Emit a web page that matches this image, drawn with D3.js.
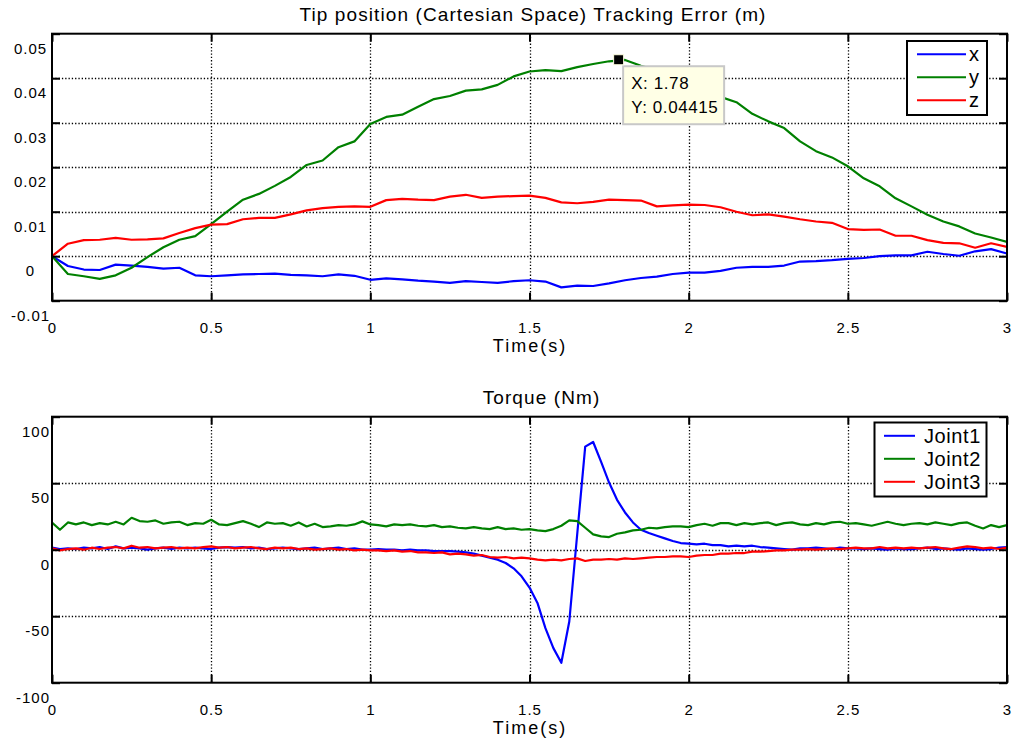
<!DOCTYPE html>
<html>
<head>
<meta charset="utf-8">
<script src="https://cdn.jsdelivr.net/npm/d3@7"></script>
<style>
  body { margin: 0; background: #fff; }
  svg text { font-family: "Liberation Sans", Arial, Helvetica, sans-serif; fill: #000; }
</style>
</head>
<body>
<div id="chart"></div>
<script>
var fontFamily = '"Liberation Sans", Arial, Helvetica, sans-serif';

// ---- data ----
var xTicks = [0, 0.5, 1, 1.5, 2, 2.5, 3];
var xTickLabels = ["0", "0.5", "1", "1.5", "2", "2.5", "3"];

var errTicks = [-0.01, 0, 0.01, 0.02, 0.03, 0.04, 0.05];
var errTickLabels = ["-0.01", "0", "0.01", "0.02", "0.03", "0.04", "0.05"];
var torqueTicks = [-100, -50, 0, 50, 100];
var torqueTickLabels = ["-100", "-50", "0", "50", "100"];

var errNames = ["x", "y", "z"];
var torqueNames = ["Joint1", "Joint2", "Joint3"];
var seriesColors = ["#0000ff", "#008000", "#ff0000"];

// sample times (s)
var errTime = [0, 0.05, 0.1, 0.15, 0.2, 0.25, 0.3, 0.35, 0.4, 0.45,
  0.5, 0.55, 0.6, 0.65, 0.7, 0.75, 0.8, 0.85, 0.9, 0.95,
  1, 1.05, 1.1, 1.15, 1.2, 1.25, 1.3, 1.35, 1.4, 1.45,
  1.5, 1.55, 1.6, 1.65, 1.7, 1.75, 1.8, 1.85, 1.9, 1.95,
  2, 2.05, 2.1, 2.15, 2.2, 2.25, 2.3, 2.35, 2.4, 2.45,
  2.5, 2.55, 2.6, 2.65, 2.7, 2.75, 2.8, 2.85, 2.9, 2.95,
  3];

var torqueTime = [0, 0.025, 0.05, 0.075, 0.1, 0.125, 0.15, 0.175, 0.2, 0.225,
  0.25, 0.275, 0.3, 0.325, 0.35, 0.375, 0.4, 0.425, 0.45, 0.475,
  0.5, 0.525, 0.55, 0.575, 0.6, 0.625, 0.65, 0.675, 0.7, 0.725,
  0.75, 0.775, 0.8, 0.825, 0.85, 0.875, 0.9, 0.925, 0.95, 0.975,
  1, 1.025, 1.05, 1.075, 1.1, 1.125, 1.15, 1.175, 1.2, 1.225,
  1.25, 1.275, 1.3, 1.325, 1.35, 1.375, 1.4, 1.425, 1.45, 1.475,
  1.5, 1.525, 1.55, 1.575, 1.6, 1.625, 1.65, 1.675, 1.7, 1.725,
  1.75, 1.775, 1.8, 1.825, 1.85, 1.875, 1.9, 1.925, 1.95, 1.975,
  2, 2.025, 2.05, 2.075, 2.1, 2.125, 2.15, 2.175, 2.2, 2.225,
  2.25, 2.275, 2.3, 2.325, 2.35, 2.375, 2.4, 2.425, 2.45, 2.475,
  2.5, 2.525, 2.55, 2.575, 2.6, 2.625, 2.65, 2.675, 2.7, 2.725,
  2.75, 2.775, 2.8, 2.825, 2.85, 2.875, 2.9, 2.925, 2.95, 2.975,
  3];

// tip position tracking error (m)
var errX = [0, -0.0022, -0.0030, -0.0031, -0.0019, -0.0021, -0.0024, -0.0028, -0.0026, -0.0043,
  -0.0045, -0.0043, -0.0041, -0.0040, -0.0039, -0.0042, -0.0043, -0.0045, -0.0041, -0.0044,
  -0.0053, -0.0050, -0.0052, -0.0055, -0.0057, -0.0060, -0.0056, -0.0058, -0.0060, -0.0056,
  -0.0054, -0.0057, -0.0070, -0.0066, -0.0067, -0.0061, -0.0054, -0.0049, -0.0046, -0.0040,
  -0.0037, -0.0037, -0.0033, -0.0026, -0.0024, -0.0024, -0.0021, -0.0012, -0.0011, -0.0009,
  -0.0006, -0.0004, 0.0000, 0.0002, 0.0002, 0.0010, 0.0005, 0.0001, 0.0011, 0.0016,
  0.0006];

var errY = [0, -0.0040, -0.0045, -0.0051, -0.0043, -0.0026, -0.0002, 0.0020, 0.0037, 0.0045,
  0.0072, 0.0100, 0.0127, 0.0140, 0.0158, 0.0178, 0.0205, 0.0215, 0.0245, 0.0258,
  0.0297, 0.0313, 0.0318, 0.0336, 0.0353, 0.0360, 0.0372, 0.0375, 0.0385, 0.0404,
  0.0415, 0.0418, 0.0416, 0.0425, 0.0432, 0.0438, 0.0441, 0.0428, 0.0418, 0.0405,
  0.0390, 0.0375, 0.0358, 0.0346, 0.0320, 0.0303, 0.0288, 0.0258, 0.0236, 0.0222,
  0.0202, 0.0175, 0.0157, 0.0130, 0.0112, 0.0093, 0.0078, 0.0067, 0.0051, 0.0042,
  0.0032];

var errZ = [0, 0.0028, 0.0036, 0.0037, 0.0041, 0.0037, 0.0038, 0.0040, 0.0052, 0.0063,
  0.0071, 0.0072, 0.0083, 0.0086, 0.0086, 0.0094, 0.0103, 0.0108, 0.0111, 0.0112,
  0.0111, 0.0126, 0.0129, 0.0127, 0.0126, 0.0134, 0.0138, 0.0131, 0.0134, 0.0135,
  0.0136, 0.0131, 0.0121, 0.0119, 0.0122, 0.0127, 0.0126, 0.0125, 0.0112, 0.0114,
  0.0116, 0.0115, 0.0110, 0.0100, 0.0092, 0.0094, 0.0089, 0.0083, 0.0078, 0.0075,
  0.0061, 0.0059, 0.0060, 0.0046, 0.0046, 0.0036, 0.0030, 0.0029, 0.0019, 0.0029,
  0.0021];

// torque (Nm)
var joint1 = [1.5, 0.5, 1.0, 0.5, 1.5, 1.0, 2.0, 0.5, 2.5, 1.0,
  1.5, 1.0, 0.0, 1.0, 1.5, 0.5, 1.5, 1.0, 1.5, 1.0,
  0.5, 1.5, 2.0, 1.5, 2.0, 1.0, 1.5, 0.5, 1.0, 1.5,
  1.0, 0.5, 1.0, 1.5, 0.5, 1.0, 1.5, 0.5, 1.0, 0.0,
  0.0, 0.5, 0.0, 0.0, -0.5, 0.0, -0.5, -0.5, -1.0, -1.0,
  -1.0, -1.5, -2.0, -3.0, -4.5, -6.0, -7.5, -10.0, -14.0, -20.0,
  -28.5, -40.0, -59.0, -74.0, -85.0, -54.0, 12.0, 77.5, 81.0, 66.0,
  50.5, 37.5, 28.0, 20.5, 15.0, 12.5, 10.5, 8.5, 6.5, 5.0,
  4.5, 4.0, 4.5, 3.5, 3.5, 2.5, 3.0, 2.5, 3.0, 2.0,
  1.5, 1.0, 0.5, 0.0, 1.0, 1.0, 1.5, 1.0, 0.5, 1.5,
  1.0, 1.0, 0.5, 1.0, 0.5, 0.0, 1.0, 0.5, 0.5, 1.0,
  1.5, 0.5, 1.0, 0.5, 0.0, 1.0, 0.5, 0.0, 0.5, 1.5,
  2.0];

var joint2 = [20.5, 15.0, 20.5, 19.0, 20.5, 18.5, 20.0, 19.0, 21.0, 19.0,
  24.0, 21.5, 21.0, 22.0, 19.5, 20.5, 21.0, 18.5, 20.0, 19.5,
  22.5, 19.0, 18.5, 20.0, 21.5, 19.5, 17.0, 20.5, 19.5, 20.0,
  18.0, 20.5, 17.5, 19.5, 17.0, 17.5, 18.5, 18.0, 19.0, 21.3,
  19.0, 18.5, 17.5, 19.0, 18.5, 19.0, 18.0, 17.5, 18.5, 17.0,
  17.5, 16.5, 16.0, 17.0, 16.0, 15.5, 17.0, 15.5, 16.0, 15.0,
  15.5, 14.5, 14.0, 15.5, 18.0, 22.0, 21.5, 16.5, 11.5, 10.0,
  9.5, 12.0, 13.0, 14.5, 15.0, 16.5, 16.0, 17.0, 17.5, 17.5,
  17.0, 18.5, 19.5, 18.0, 20.0, 20.0, 18.5, 20.0, 19.0, 20.0,
  20.5, 18.5, 20.0, 20.5, 19.0, 18.5, 20.0, 19.0, 20.5, 21.0,
  19.5, 20.0, 19.0, 18.0, 19.5, 21.0, 19.5, 18.5, 19.5, 20.0,
  19.0, 20.5, 19.5, 18.5, 20.0, 20.5, 18.0, 16.0, 18.5, 17.0,
  18.5];

var joint3 = [1.0, -0.5, 0.5, 1.0, 0.0, 1.5, 0.5, 1.5, 2.0, 1.0,
  3.0, 1.5, 2.0, 1.0, 1.5, 2.0, 1.0, 1.5, 1.0, 2.0,
  2.5, 1.5, 2.0, 1.0, 1.5, 2.0, 1.0, 0.5, 1.5, 1.0,
  1.5, 0.5, 1.0, 0.0, 0.5, 1.0, 0.0, 0.5, -0.5, 0.0,
  -0.5, -0.5, -1.0, -0.5, -1.5, -1.0, -2.0, -2.0, -2.5, -2.0,
  -3.5, -3.0, -3.5, -4.5, -4.0, -5.5, -6.0, -5.5, -6.5, -6.0,
  -6.5, -7.5, -8.0, -7.5, -8.0, -7.0, -6.5, -8.5, -7.5, -7.5,
  -7.0, -7.5, -6.5, -7.0, -6.5, -6.0, -5.5, -5.5, -5.0, -5.0,
  -5.5, -4.5, -4.0, -4.0, -3.0, -3.0, -2.5, -2.5, -1.5, -1.5,
  -1.0, -0.5, -0.5, 0.0, 0.0, 0.5, 0.0, 0.5, 1.0, 0.5,
  1.0, 1.5, 1.0, 1.0, 2.0, 1.0, 1.5, 1.0, 1.5, 1.0,
  1.5, 2.0, 1.0, 0.5, 1.5, 2.5, 2.0, 1.0, 1.5, 0.5,
  1.5];

// data cursor on the y curve
var dataTip = { x: 1.78, y: 0.04415 };
var dataTipLabels = ["X: 1.78", "Y: 0.04415"];

// ---- layout ----
var width = 1018, height = 743;

var svg = d3.select("#chart").append("svg")
    .attr("width", width)
    .attr("height", height)
    .style("display", "block");

var x = d3.scaleLinear().domain([0, 3]).range([52, 1007]);

var panels = [
  {
    id: "err",
    top: 33.7, bottom: 300.7,
    yDomain: [-0.01, 0.05],
    ticks: errTicks, tickLabels: errTickLabels,
    labelX: -21.5, labelAnchor: "middle",
    title: "Tip position (Cartesian Space) Tracking Error (m)", titleX: 533,
    series: [
      { name: errNames[0], color: seriesColors[0], time: errTime, values: errX },
      { name: errNames[1], color: seriesColors[1], time: errTime, values: errY },
      { name: errNames[2], color: seriesColors[2], time: errTime, values: errZ }
    ],
    legend: { x: 907, y: 41, w: 80, h: 74, lineX1: 917, lineX2: 966, textX: 969 }
  },
  {
    id: "torque",
    top: 416.7, bottom: 682.7,
    yDomain: [-100, 100],
    ticks: torqueTicks, tickLabels: torqueTickLabels,
    labelX: -2, labelAnchor: "end",
    title: "Torque (Nm)", titleX: 541.5,
    series: [
      { name: torqueNames[0], color: seriesColors[0], time: torqueTime, values: joint1 },
      { name: torqueNames[1], color: seriesColors[1], time: torqueTime, values: joint2 },
      { name: torqueNames[2], color: seriesColors[2], time: torqueTime, values: joint3 }
    ],
    legend: { x: 874.5, y: 422.5, w: 112, h: 74, lineX1: 884, lineX2: 915, textX: 924 }
  }
];

function styleAxis(g) {
  g.select(".domain").remove();
  g.attr("font-family", fontFamily).attr("font-size", 15);
  g.selectAll(".tick line").attr("stroke", "#000").attr("stroke-width", 2);
  g.selectAll(".tick text").attr("fill", "#000").attr("letter-spacing", 1);
}

function drawPanel(p) {
  var y = d3.scaleLinear().domain(p.yDomain).range([p.bottom, p.top]);
  var g = svg.append("g").attr("class", "panel-" + p.id);
  var w = x(3) - x(0), h = p.bottom - p.top;

  svg.append("clipPath").attr("id", "clip-" + p.id)
    .append("rect")
    .attr("x", x(0)).attr("y", p.top)
    .attr("width", w).attr("height", h);

  // dotted grid
  g.selectAll("line.vgrid")
    .data(xTicks.filter(function(d) { return d > 0 && d < 3; }))
    .enter().append("line")
    .attr("class", "vgrid")
    .attr("x1", function(d) { return Math.round(x(d)) + 0.5; })
    .attr("x2", function(d) { return Math.round(x(d)) + 0.5; })
    .attr("y1", p.top).attr("y2", p.bottom)
    .attr("stroke", "#000").attr("stroke-width", 1.3)
    .attr("stroke-dasharray", "1.3,2");

  g.selectAll("line.hgrid")
    .data(p.ticks.filter(function(d) { return d > p.yDomain[0] && d < p.yDomain[1]; }))
    .enter().append("line")
    .attr("class", "hgrid")
    .attr("x1", x(0)).attr("x2", x(3))
    .attr("y1", function(d) { return Math.round(y(d)) + 0.5; })
    .attr("y2", function(d) { return Math.round(y(d)) + 0.5; })
    .attr("stroke", "#000").attr("stroke-width", 1.3)
    .attr("stroke-dasharray", "1.3,2");

  // curves
  var line = d3.line()
    .x(function(d) { return x(d[0]); })
    .y(function(d) { return y(d[1]); });

  var plot = g.append("g").attr("clip-path", "url(#clip-" + p.id + ")");
  p.series.forEach(function(s) {
    plot.append("path")
      .datum(d3.zip(s.time, s.values))
      .attr("d", line)
      .attr("fill", "none")
      .attr("stroke", s.color)
      .attr("stroke-width", 2.2)
      .attr("stroke-linejoin", "round");
  });

  // box
  g.append("rect")
    .attr("x", x(0)).attr("y", p.top)
    .attr("width", w).attr("height", h)
    .attr("fill", "none").attr("stroke", "#000").attr("stroke-width", 2);

  // ticks (inside, on all four sides)
  g.append("g")
    .attr("transform", "translate(0," + p.bottom + ")")
    .call(d3.axisBottom(x).tickValues(xTicks)
      .tickFormat(function(d, i) { return xTickLabels[i]; })
      .tickSizeInner(-8).tickSizeOuter(0).tickPadding(22))
    .call(styleAxis);

  g.append("g")
    .attr("transform", "translate(0," + p.top + ")")
    .call(d3.axisTop(x).tickValues(xTicks).tickFormat("")
      .tickSizeInner(-8).tickSizeOuter(0))
    .call(styleAxis);

  var left = g.append("g")
    .attr("transform", "translate(" + x(0) + ",0)")
    .call(d3.axisLeft(y).tickValues(p.ticks)
      .tickFormat(function(d, i) { return p.tickLabels[i]; })
      .tickSizeInner(-8).tickSizeOuter(0))
    .call(styleAxis);
  // labels sit a little below their ticks, as in the original figure
  left.selectAll(".tick text")
    .attr("x", p.labelX)
    .attr("dy", 19.5)
    .attr("text-anchor", p.labelAnchor);

  g.append("g")
    .attr("transform", "translate(" + x(3) + ",0)")
    .call(d3.axisRight(y).tickValues(p.ticks).tickFormat("")
      .tickSizeInner(-8).tickSizeOuter(0))
    .call(styleAxis);

  // title and x label
  g.append("text")
    .attr("x", p.titleX).attr("y", p.top - 12.5)
    .attr("text-anchor", "middle")
    .attr("font-size", 19).attr("letter-spacing", 1.1)
    .text(p.title);

  g.append("text")
    .attr("x", 530).attr("y", p.bottom + 51.5)
    .attr("text-anchor", "middle")
    .attr("font-size", 18).attr("letter-spacing", 2)
    .text("Time(s)");

  // legend
  var L = p.legend;
  var lg = g.append("g").attr("class", "legend");
  lg.append("rect")
    .attr("x", L.x).attr("y", L.y)
    .attr("width", L.w).attr("height", L.h)
    .attr("fill", "#fff").attr("stroke", "#000").attr("stroke-width", 2);

  var rows = lg.selectAll("g.row")
    .data(p.series)
    .enter().append("g")
    .attr("class", "row")
    .attr("transform", function(d, i) { return "translate(0," + (L.y + 13.3 + i * 23) + ")"; });

  rows.append("line")
    .attr("x1", L.lineX1).attr("x2", L.lineX2)
    .attr("stroke", function(d) { return d.color; })
    .attr("stroke-width", 2);

  rows.append("text")
    .attr("x", L.textX).attr("dy", 7)
    .attr("font-size", 20).attr("letter-spacing", 0.6)
    .text(function(d) { return d.name; });

  return y;
}

var yErr = drawPanel(panels[0]);
drawPanel(panels[1]);

// data tip
var tipX = x(dataTip.x), tipY = yErr(dataTip.y);
var tipG = svg.append("g").attr("class", "datatip");

tipG.append("rect")
  .attr("x", tipX + 4.5).attr("y", tipY + 6.5)
  .attr("width", 101).attr("height", 58)
  .attr("fill", "#ffffe6").attr("stroke", "#c8c8c8").attr("stroke-width", 2);

tipG.selectAll("text")
  .data(dataTipLabels)
  .enter().append("text")
  .attr("x", tipX + 12.5)
  .attr("y", function(d, i) { return tipY + 29 + i * 24.5; })
  .attr("font-size", 17).attr("letter-spacing", 0.6)
  .text(function(d) { return d; });

tipG.append("rect")
  .attr("x", tipX - 5).attr("y", tipY - 5)
  .attr("width", 10).attr("height", 10)
  .attr("fill", "#000").attr("stroke", "#ffffe0").attr("stroke-width", 1);
</script>
</body>
</html>
